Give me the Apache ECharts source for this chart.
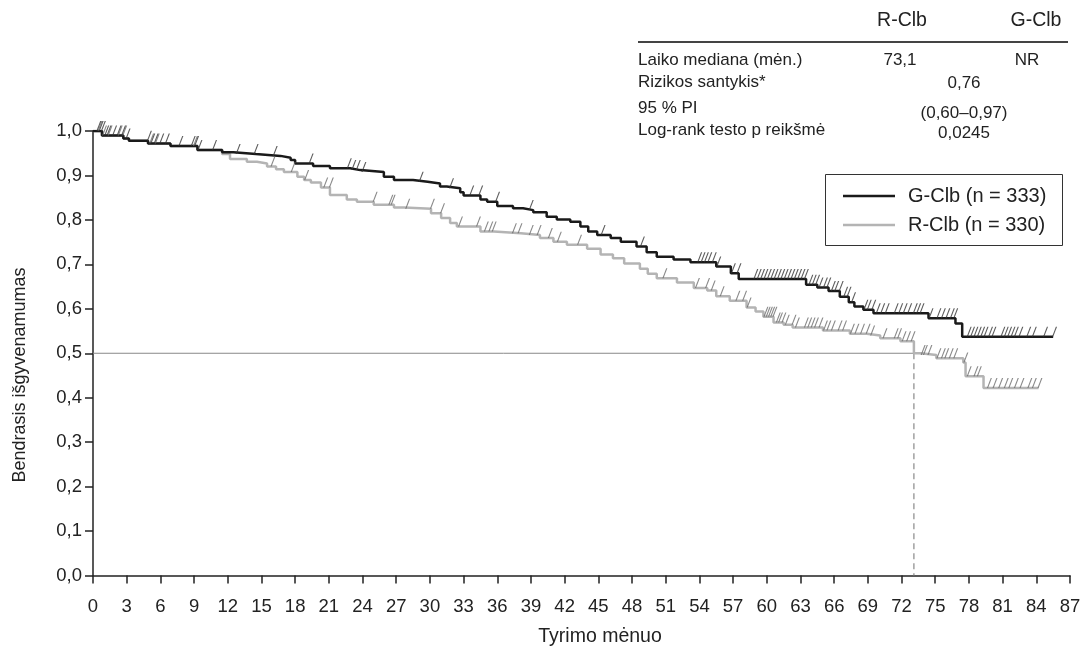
<!DOCTYPE html>
<html>
<head>
<meta charset="utf-8">
<script src="https://cdn.jsdelivr.net/npm/echarts@6/dist/echarts.min.js"></script>
<style>
html,body{margin:0;padding:0;background:#fff;}
#chart{width:1085px;height:650px;}
</style>
</head>
<body>
<div id="chart"></div>
<script>
// ---- Data ----
const seriesNames = ['G-Clb (n = 333)', 'R-Clb (n = 330)'];
const xTicks = {min: 0, max: 87, interval: 3};
const yTicks = {min: 0, max: 1, interval: 0.1};
const xAxisTitle = 'Tyrimo mėnuo';
const yAxisTitle = 'Bendrasis išgyvenamumas';

// Kaplan-Meier steps [month, survival]
const gClbSteps = [[0,1.0],[0.8,0.99],[2.7,0.983],[3.2,0.978],[4.9,0.972],[6.9,0.966],[9.3,0.957],[11.5,0.952],[12.5,0.948],[14.5,0.944],[16.7,0.94],[17.6,0.935],[18.0,0.927],[19.6,0.921],[21.1,0.916],[22.9,0.912],[23.8,0.908],[25.9,0.897],[26.8,0.89],[28.5,0.886],[29.8,0.882],[30.9,0.875],[31.5,0.871],[32.7,0.862],[33.0,0.855],[34.5,0.846],[35.1,0.841],[36.0,0.831],[37.4,0.826],[38.3,0.822],[39.2,0.817],[40.4,0.807],[41.3,0.801],[42.5,0.796],[43.4,0.785],[44.1,0.774],[44.9,0.766],[46.1,0.759],[47.0,0.751],[48.4,0.74],[49.3,0.727],[50.2,0.717],[51.7,0.711],[53.2,0.705],[55.5,0.695],[56.8,0.68],[57.5,0.667],[63.5,0.654],[64.5,0.648],[65.5,0.64],[66.5,0.627],[67.3,0.615],[67.8,0.605],[68.6,0.598],[69.5,0.59],[74.4,0.579],[76.8,0.567],[77.4,0.537],[85.5,0.537]];
const rClbSteps = [[0,1.0],[0.8,0.99],[2.7,0.983],[3.2,0.978],[4.9,0.972],[6.9,0.966],[9.3,0.957],[11.5,0.948],[12.2,0.937],[13.7,0.931],[14.6,0.927],[15.5,0.92],[16.3,0.914],[17.0,0.908],[18.2,0.897],[18.8,0.89],[19.4,0.884],[20.3,0.873],[21.1,0.856],[22.6,0.846],[23.5,0.841],[25.0,0.834],[26.8,0.828],[27.7,0.825],[30.1,0.815],[31.0,0.804],[31.8,0.793],[32.4,0.785],[34.5,0.774],[35.7,0.77],[38.1,0.766],[39.8,0.759],[41.0,0.751],[42.2,0.744],[44.0,0.735],[45.2,0.722],[46.3,0.714],[47.3,0.702],[48.7,0.69],[49.4,0.679],[50.2,0.669],[52.0,0.659],[53.5,0.647],[54.7,0.641],[55.5,0.628],[56.7,0.618],[58.2,0.603],[59.0,0.594],[59.7,0.582],[60.6,0.569],[61.5,0.564],[62.3,0.558],[65.0,0.551],[67.4,0.544],[68.9,0.54],[70.1,0.534],[71.9,0.527],[73.1,0.5],[73.7,0.496],[75.1,0.489],[77.5,0.479],[77.7,0.448],[79.3,0.422],[84.2,0.422]];

// Censoring times (months)
const gClbCensor = [0.3,0.5,0.7,1.0,1.2,1.7,2.1,2.5,2.9,4.8,5.1,5.4,5.9,6.4,7.6,8.7,9.0,9.3,10.6,12.7,14.3,16.0,19.2,22.6,23.0,23.4,23.9,29.0,31.7,33.5,34.3,35.8,38.8,45.2,48.7,53.8,54.1,54.4,54.7,55.1,55.5,56.8,57.3,58.8,59.1,59.4,59.7,60.0,60.3,60.6,60.9,61.2,61.5,61.8,62.1,62.4,62.7,63.0,63.3,63.7,64.0,64.3,64.6,65.0,65.3,65.7,66.0,66.4,66.8,67.1,67.5,68.6,68.9,69.3,69.7,70.1,70.5,71.3,71.7,72.1,72.5,73.0,73.3,73.6,74.4,75.1,75.5,75.9,76.3,76.6,77.8,78.1,78.4,78.7,79.0,79.3,79.7,80.0,80.8,81.1,81.4,81.7,82.0,82.4,83.1,83.6,84.6,85.4];
const rClbCensor = [0.4,0.8,1.3,2.2,2.6,5.0,5.5,8.9,15.8,17.6,18.8,20.5,21.0,24.9,26.3,26.5,27.8,30.0,30.9,32.5,34.1,34.8,35.2,35.5,37.3,37.8,38.8,39.5,40.5,41.3,43.1,50.7,53.6,54.5,55.0,55.8,57.2,57.8,58.2,59.7,59.9,60.1,60.3,60.5,60.8,61.0,61.3,61.6,62.2,62.5,63.3,63.6,63.9,64.2,64.6,65.0,65.3,65.7,66.3,66.7,67.4,67.8,68.3,68.8,69.2,70.3,71.3,71.6,72.0,72.4,72.8,73.7,73.9,74.3,75.1,75.5,75.8,76.2,76.6,77.5,77.8,78.4,78.7,79.6,80.1,80.6,81.1,81.5,82.0,82.5,83.2,83.6,84.1];

const medianRClb = 73.1;
const medianLevel = 0.5;

// Summary table
const tableColumns = ['R-Clb', 'G-Clb'];
const tableRowLabels = ['Laiko mediana (mėn.)', 'Rizikos santykis*', '95 % PI', 'Log-rank testo p reikšmė'];
const medianValues = ['73,1', 'NR'];
const hazardRatio = '0,76';
const confInterval = '(0,60–0,97)';
const pValue = '0,0245';

// ---- Helpers ----
function survAt(steps, t) {
  let v = steps[0][1];
  for (const s of steps) { if (s[0] <= t) v = s[1]; else break; }
  return v;
}
const FONT = '"Liberation Sans", Arial, sans-serif';
const TXT = '#222';
const censorPath = 'path://M0,10L4,0L5.2,0L1.2,10Z';

const chart = echarts.init(document.getElementById('chart'), null, {renderer: 'canvas'});

function txt(text, x, y, size, align, vAlign, extra) {
  return Object.assign({
    type: 'text', x: x, y: y, silent: true,
    style: {text: text, fill: TXT, fontSize: size, fontFamily: FONT,
      textAlign: align, align: align, textVerticalAlign: vAlign || 'middle', verticalAlign: vAlign || 'middle'}
  }, extra || {});
}

const graphics = [
  // table header
  txt(tableColumns[0], 902, 21, 19.5, 'center'),
  txt(tableColumns[1], 1036, 21, 19.5, 'center'),
  {type: 'line', silent: true, shape: {x1: 638, y1: 42, x2: 1068, y2: 42}, style: {stroke: '#444', lineWidth: 2}},
  txt(tableRowLabels[0], 638, 60, 17, 'left'),
  txt(medianValues[0], 900, 60, 17, 'center'),
  txt(medianValues[1], 1027, 60, 17, 'center'),
  txt(tableRowLabels[1], 638, 82, 17, 'left'),
  txt(hazardRatio, 964, 83, 17, 'center'),
  txt(tableRowLabels[2], 638, 108, 17, 'left'),
  txt(confInterval, 964, 113, 17, 'center'),
  txt(tableRowLabels[3], 638, 130, 17, 'left'),
  txt(pValue, 964, 133, 17, 'center'),
  // legend box
  {type: 'rect', silent: true, shape: {x: 825.5, y: 174.5, width: 237, height: 71}, style: {fill: 'none', stroke: '#333', lineWidth: 1}},
  // axis titles
  txt(yAxisTitle, 20, 375, 18, 'center', 'middle', {rotation: Math.PI / 2}),
  txt(xAxisTitle, 600, 637, 19.5, 'center')
];

const option = {
  animation: false,
  backgroundColor: '#fff',
  grid: {left: 93, right: 15, top: 131, bottom: 74.5, containLabel: false},
  legend: {
    data: seriesNames,
    orient: 'vertical',
    left: 843, top: 186,
    padding: 0,
    itemGap: 9,
    icon: 'rect',
    itemWidth: 52, itemHeight: 2.5,
    textStyle: {fontSize: 20, fontFamily: FONT, color: TXT, padding: [0, 0, 0, 8], lineHeight: 20, height: 20}
  },
  xAxis: {
    type: 'value', min: xTicks.min, max: xTicks.max, interval: xTicks.interval,
    axisLine: {show: true, lineStyle: {color: '#222', width: 1.5}},
    axisTick: {show: true, length: 8, lineStyle: {color: '#222', width: 1.5}},
    axisLabel: {fontSize: 18.5, fontFamily: FONT, color: TXT, margin: 22},
    splitLine: {show: false}
  },
  yAxis: {
    type: 'value', min: yTicks.min, max: yTicks.max, interval: yTicks.interval,
    axisLine: {show: true, lineStyle: {color: '#222', width: 1.5}},
    axisTick: {show: true, length: 8, lineStyle: {color: '#222', width: 1.5}},
    axisLabel: {fontSize: 18.5, fontFamily: FONT, color: TXT, margin: 11,
      formatter: v => v.toFixed(1).replace('.', ',')},
    splitLine: {show: false}
  },
  graphic: graphics,
  series: [
    {
      name: 'median-h', type: 'line', silent: true, symbol: 'none', z: 1,
      data: [[0, medianLevel], [medianRClb, medianLevel]],
      lineStyle: {color: '#888', width: 1}
    },
    {
      name: 'median-v', type: 'line', silent: true, symbol: 'none', z: 1,
      data: [[medianRClb, medianLevel], [medianRClb, 0]],
      lineStyle: {color: '#888', width: 1.2, type: [6, 4]}
    },
    {
      name: seriesNames[1], type: 'line', step: 'end', symbol: 'none', z: 3,
      data: rClbSteps,
      color: '#b4b4b4',
      lineStyle: {color: '#b4b4b4', width: 2.5}
    },
    {
      name: seriesNames[0], type: 'line', step: 'end', symbol: 'none', z: 4,
      data: gClbSteps,
      color: '#1a1a1a',
      lineStyle: {color: '#1a1a1a', width: 2.5}
    },
    {
      name: 'r-censor', type: 'scatter', silent: true, z: 5,
      symbol: censorPath, symbolSize: [5, 10], symbolOffset: [2.5, -5],
      itemStyle: {color: '#6a6a6a'},
      data: rClbCensor.map(t => [t, survAt(rClbSteps, t)])
    },
    {
      name: 'g-censor', type: 'scatter', silent: true, z: 6,
      symbol: censorPath, symbolSize: [5, 10], symbolOffset: [2.5, -5],
      itemStyle: {color: '#333'},
      data: gClbCensor.map(t => [t, survAt(gClbSteps, t)])
    }
  ]
};
chart.setOption(option);
</script>
</body>
</html>
